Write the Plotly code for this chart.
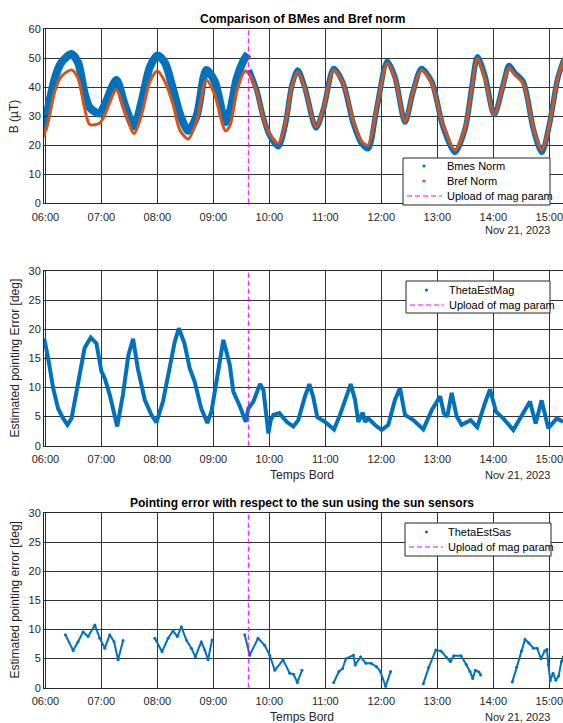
import plotly.graph_objects as go
import pandas as pd

# ---------------- data (times in minutes after 2023-11-21 06:00) ----------------
bref_t = [-2, 3, 10, 17, 28, 35, 42, 47.5, 58, 63.6, 76, 85, 95, 103, 112, 120, 128, 137, 144, 153,
          162, 172.5, 181.5, 193, 198, 205, 214, 219, 226.5, 233.6, 240, 249.6, 256.8, 264, 270.4,
          278, 290, 298, 309, 319, 330, 339, 346, 355, 366.4, 374.7, 385.4, 394, 403, 414, 426,
          439, 449.7, 457, 463, 471, 481, 490.7, 496.8, 503, 512, 523, 532, 540, 549, 556]
bref_v = [23, 28.2, 38.5, 43.7, 46, 43.1, 32.8, 27.2, 27.6, 30.5, 39.1, 31.6, 24.1, 30.5, 42, 45.6,
          42, 33.9, 25.3, 22.2, 28.2, 42.5, 37.4, 25, 27, 38.5, 45.6, 44.3, 38.5, 29.3, 24.1, 20.7,
          27, 40.2, 45.4, 39.7, 26.4, 32.8, 46, 41.4, 28.2, 21.3, 20.1, 32.8, 48.3, 43.1, 28.2,
          38.5, 46, 41.4, 27, 18.4, 25.9, 39.7, 49.8, 43.1, 30.5, 40.8, 46.8, 44.3, 41.4, 25.9,
          18.4, 27, 43.1, 50]

bmes_t = [-2, 3, 10, 17, 28, 35, 42, 47.5, 58, 63.6, 76, 85, 95, 103, 112, 120, 128, 137, 144, 153,
          162, 172.5, 181.5, 193, 198, 205, 212, 217, 218.5, 226.5, 233.6, 240, 249.6, 256.8, 264,
          270.4, 278, 290, 298, 309, 319, 330, 339, 346, 355, 366.4, 374.7, 385.4, 394, 403, 414,
          426, 439, 449.7, 457, 463, 471, 481, 490.7, 496.8, 503, 512, 523, 532, 540, 549, 556]
bmes_v = [25.5, 33, 43, 48.5, 51.5, 48.5, 38, 33, 31, 34, 42.5, 34, 26.5, 35, 47, 51, 48.5, 39, 31,
          25, 30, 46, 42, 28, 32, 43, 49, 51.5, 46, 39, 29.5, 23.5, 19.5, 26.5, 40.5, 46, 40, 26,
          32.5, 46.5, 41.5, 27.5, 20.5, 18.8, 32.5, 49, 43.5, 28, 38.5, 46.5, 42, 26.5, 17.5, 25.5,
          40, 50.5, 44, 30.5, 41, 47.5, 45, 42, 25.5, 17.5, 27, 43, 50]

mag_t = [-1.4, 2.9, 8.3, 13.6, 19, 23.6, 28, 35, 42, 48.6, 54.7, 60, 63.6, 69, 73.6, 77, 83, 89, 94,
         99, 106.5, 113.6, 119, 126, 133, 138.6, 143, 149, 154.7, 160, 167, 173.6, 178, 185, 190.7,
         197.6, 201.4, 208.6, 214.7, 217.5, 222.9, 230, 233.6, 236.5, 239, 241.5, 244.3, 250.7,
         258.6, 265.7, 271, 278, 282.9, 287, 291.4, 299.7, 309.3, 315.7, 322, 327.2, 331.8, 335.4,
         340, 342.5, 346, 353, 360.4, 367.5, 374.7, 380, 385.4, 394.3, 405, 414, 423, 427, 430.7,
         435.4, 440.8, 446, 455.7, 462.8, 471, 476.4, 483, 490.7, 501.4, 510.4, 519.3, 525.4,
         531.8, 538.9, 548, 554.7]
mag_v = [18.5, 15.1, 9.9, 6.4, 4.7, 3.6, 4.7, 11, 16.8, 18.6, 17.6, 12.8, 11.6, 8.7, 5.3, 3.3, 8.7,
         15.6, 18.4, 13.3, 7.9, 5.3, 4.0, 7.6, 13.3, 17.9, 20.2, 17.6, 13.3, 11, 6.4, 3.9, 5.9,
         12.2, 18.2, 13.9, 9.3, 6.7, 4.1, 6.4, 7.6, 10.6, 9.6, 5.6, 2.1, 4.4, 5.3, 5.6, 4.1, 3.3,
         4.4, 8.4, 10.6, 8.4, 4.9, 4.1, 2.8, 5.3, 8.4, 10.6, 7.9, 4.1, 5.7, 4.1, 4.7, 3.6, 2.7,
         3.6, 7.9, 9.9, 5.3, 4.4, 2.8, 6.1, 8.5, 5.6, 5.0, 9.1, 5.0, 3.6, 4.4, 3.2, 7.3, 9.7, 5.8,
         4.7, 2.7, 5.3, 7.6, 3.8, 7.8, 3.0, 4.7, 4.1]

sas_t_segments = [
    [21.4, 29.7, 35, 40.4, 45.7, 53, 58.3, 63.6, 69, 73.6, 77.9, 83.2],
    [117.2, 125, 131.5, 136.8, 141.4, 145.7, 151, 156.4, 160.7, 167, 170.8, 174.3, 178.6],
    [213.6, 219, 227.9, 235, 240.4, 245.8, 254.7, 261.8, 266, 270, 275],
    [309, 314.6, 318.5, 322, 330, 332, 337.7, 343.5, 349, 355, 359, 364.6, 370],
    [405, 410.8, 418.5, 424, 430, 434, 437.7, 445.4, 451, 455, 458, 460.8, 464.6, 466.5],
    [500.4, 505, 510, 514, 518, 523, 527, 531, 535, 537.5, 539, 541, 544, 547, 550, 553, 555],
]
sas_v_segments = [
    [9.1, 6.4, 7.9, 9.6, 8.8, 10.8, 8.5, 6.8, 9.1, 7.9, 4.8, 8.1],
    [8.5, 6.2, 8.5, 9.8, 8.8, 10.5, 8.2, 6.8, 5.3, 7.9, 6.5, 4.8, 8.2],
    [9.1, 5.6, 8.5, 7.3, 5.6, 3.0, 4.8, 2.5, 2.3, 0.9, 3.0],
    [0.9, 2.8, 3.3, 5.0, 5.6, 3.9, 5.3, 4.2, 4.2, 3.6, 2.8, 0.2, 2.8],
    [0.7, 3.5, 6.5, 6.3, 5.2, 4.5, 5.5, 5.5, 4.0, 2.8, 1.6, 3.0, 2.7, 2.2],
    [1.0, 3.5, 6.3, 8.3, 7.7, 6.8, 6.8, 5.0, 6.3, 6.6, 4.0, 1.2, 2.5, 1.3, 2.0, 4.5, 5.3],
]

upload_t = 217.5
x_range_min = [-1.5, 554.7]
hour_ticks = ["06:00", "07:00", "08:00", "09:00", "10:00", "11:00", "12:00", "13:00", "14:00", "15:00"]

titles = ["Comparison of BMes and Bref norm", "", "Pointing error with respect to the sun using the sun sensors"]
ylabels = ["B (\u00b5T)", "Estimated pointing Error [deg]", "Estimated pointing error [deg]"]
y_ranges = [[0, 60], [0, 30], [0, 30]]
y_dticks = [10, 5, 5]
legend_items = [
    [("Bmes Norm", "dot_blue"), ("Bref Norm", "dot_orange"), ("Upload of mag param", "dash")],
    [("ThetaEstMag", "dot_blue"), ("Upload of mag param", "dash")],
    [("ThetaEstSas", "dot_blue"), ("Upload of mag param", "dash")],
]

# ---------------- helpers ----------------
BASE = pd.Timestamp("2023-11-21 06:00:00")


def tt(mins):
    return [None if m is None else BASE + pd.Timedelta(minutes=m) for m in mins]


BLUE = "#0072BD"
ORANGE = "#D95319"
MAGENTA = "#FF00FF"
TXT = "#262626"
GRID = "#333333"
FONT = "Liberation Sans, Arial, sans-serif"
DASH = "5px,3px"

W, H = 563, 723
L = 44
px_axes = [(29.3, 203.3), (271.3, 445.7), (513.3, 687.7)]
# legend boxes in pixels: (left, right, top, bottom), row centers, dot x, text x
legend_boxes = [
    dict(box=(403, 550, 158, 205), rows=[166, 181, 196], dot=424, text=445),
    dict(box=(406, 550, 281, 313), rows=[290, 305], dot=426.5, text=447),
    dict(box=(405, 551, 523, 556), rows=[532, 547], dot=426.5, text=446),
]


def py(p):
    return 1 - p / H


def px(p):
    return (p - L) / (W - L)


fig = go.Figure()

# ---- panel 1 ----
cut = next(i for i, t in enumerate(bmes_t) if t > upload_t)
fig.add_trace(go.Scatter(x=tt(bmes_t[:cut]), y=bmes_v[:cut], mode="lines",
                         line=dict(color=BLUE, width=8, shape="spline", smoothing=0.8),
                         showlegend=False, xaxis="x", yaxis="y"))
fig.add_trace(go.Scatter(x=tt(bmes_t[cut:]), y=bmes_v[cut:], mode="lines",
                         line=dict(color=BLUE, width=5.5, shape="spline", smoothing=0.8),
                         showlegend=False, xaxis="x", yaxis="y"))
fig.add_trace(go.Scatter(x=tt(bref_t), y=bref_v, mode="lines",
                         line=dict(color=ORANGE, width=3, shape="spline", smoothing=0.8),
                         showlegend=False, xaxis="x", yaxis="y"))
fig.add_trace(go.Scatter(x=tt([upload_t, upload_t]), y=y_ranges[0], mode="lines",
                         line=dict(color=MAGENTA, width=1, dash=DASH), showlegend=False, xaxis="x", yaxis="y"))

# ---- panel 2 ----
fig.add_trace(go.Scatter(x=tt(mag_t), y=mag_v, mode="lines", line=dict(color=BLUE, width=4),
                         showlegend=False, xaxis="x2", yaxis="y2"))
fig.add_trace(go.Scatter(x=tt([upload_t, upload_t]), y=y_ranges[1], mode="lines",
                         line=dict(color=MAGENTA, width=1, dash=DASH), showlegend=False, xaxis="x2", yaxis="y2"))

# ---- panel 3 ----
sas_t, sas_v = [], []
for ts, vs in zip(sas_t_segments, sas_v_segments):
    sas_t += ts + [None]
    sas_v += vs + [None]
fig.add_trace(go.Scatter(x=tt(sas_t), y=sas_v, mode="lines+markers", line=dict(color=BLUE, width=2),
                         marker=dict(color=BLUE, size=3), connectgaps=False,
                         showlegend=False, xaxis="x3", yaxis="y3"))
fig.add_trace(go.Scatter(x=tt([upload_t, upload_t]), y=y_ranges[2], mode="lines",
                         line=dict(color=MAGENTA, width=1, dash=DASH), showlegend=False, xaxis="x3", yaxis="y3"))

tickvals = [pd.Timestamp("2023-11-21 " + h) for h in hour_ticks]
layout = dict(
    width=W, height=H, margin=dict(l=L, r=0, t=0, b=0),
    paper_bgcolor="white", plot_bgcolor="white", showlegend=False,
    font=dict(family=FONT, size=11, color=TXT),
)
annotations = []
shapes = []
for i in range(3):
    sfx = "" if i == 0 else str(i + 1)
    top, bot = px_axes[i]
    layout["xaxis" + sfx] = dict(
        domain=[0, 1], anchor="y" + sfx, range=tt(x_range_min), type="date",
        tickvals=tickvals, ticktext=hour_ticks, showgrid=True, gridcolor=GRID, gridwidth=1,
        showline=True, linecolor=TXT, linewidth=1, mirror=True, ticks="inside", ticklen=3,
        tickcolor=TXT, zeroline=False, tickfont=dict(size=11, color=TXT), automargin=False,
        ticklabeloverflow="allow", ticklabelstandoff=3,
    )
    layout["yaxis" + sfx] = dict(
        domain=[py(bot), py(top)], anchor="x" + sfx, range=y_ranges[i], dtick=y_dticks[i], tick0=0,
        showgrid=True, gridcolor=GRID, gridwidth=1, showline=True, linecolor=TXT, linewidth=1,
        ticks="inside", ticklen=3, tickcolor=TXT, zeroline=False, tickfont=dict(size=11, color=TXT),
        automargin=False,
    )
    annotations.append(dict(text=ylabels[i], x=px(14), y=py((top + bot) / 2), xref="paper", yref="paper",
                            textangle=-90, showarrow=False, font=dict(size=12, color=TXT),
                            xanchor="center", yanchor="middle"))
    if titles[i]:
        annotations.append(dict(text="<b>" + titles[i] + "</b>", x=px(302), y=py(top - 10), xref="paper",
                                yref="paper", showarrow=False, font=dict(size=12, color="black"),
                                xanchor="center", yanchor="middle"))
    date_y = bot + 27 if i == 0 else bot + 29.5
    annotations.append(dict(text="Nov 21, 2023", x=px(552), y=py(date_y), xref="paper", yref="paper",
                            showarrow=False, font=dict(size=11, color=TXT), xanchor="right", yanchor="middle"))
    if i > 0:
        annotations.append(dict(text="Temps Bord", x=px(302), y=py(bot + 29.5), xref="paper", yref="paper",
                                showarrow=False, font=dict(size=12, color=TXT), xanchor="center", yanchor="middle"))

    # ---- manual legend (MATLAB style) ----
    lg = legend_boxes[i]
    x0, x1, y0, y1 = lg["box"]
    shapes.append(dict(type="rect", xref="paper", yref="paper", x0=px(x0), x1=px(x1), y0=py(y1), y1=py(y0),
                       fillcolor="white", line=dict(color=TXT, width=1), layer="above"))
    for (label, kind), ry in zip(legend_items[i], lg["rows"]):
        if kind == "dash":
            shapes.append(dict(type="line", xref="paper", yref="paper", x0=px(x0 + 4), x1=px(lg["text"] - 3),
                               y0=py(ry), y1=py(ry), line=dict(color=MAGENTA, width=1, dash=DASH), layer="above"))
        else:
            col = BLUE if kind == "dot_blue" else ORANGE
            shapes.append(dict(type="circle", xref="paper", yref="paper", x0=px(lg["dot"] - 1.6),
                               x1=px(lg["dot"] + 1.6), y0=py(ry + 1.6), y1=py(ry - 1.6),
                               fillcolor=col, line=dict(color=col, width=0), layer="above"))
        annotations.append(dict(text=label, x=px(lg["text"]), y=py(ry), xref="paper", yref="paper",
                                showarrow=False, font=dict(size=11, color="black"),
                                xanchor="left", yanchor="middle"))

layout["annotations"] = annotations
layout["shapes"] = shapes
fig.update_layout(**layout)

fig.write_html("out.html")
